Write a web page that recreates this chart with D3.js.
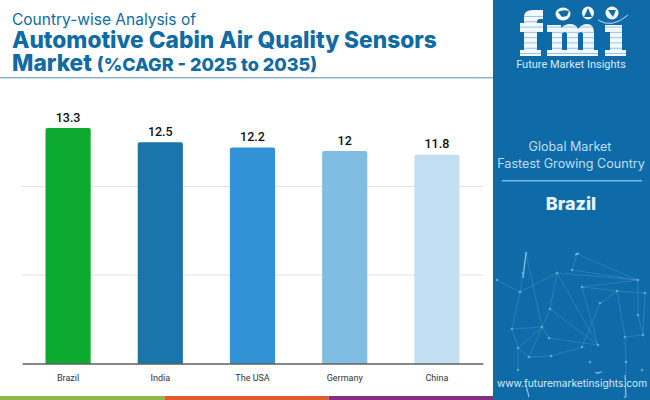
<!DOCTYPE html>
<html>
<head>
<meta charset="utf-8">
<script src="https://cdn.jsdelivr.net/npm/d3@7"></script>
<style>
  html, body { margin: 0; padding: 0; background: #fff; overflow: hidden; }
  text { font-family: Roboto, sans-serif; }
  .head { font-family: Inter, "Open Sans", sans-serif; fill: #0f6ba3; }
  .side { font-family: Inter, sans-serif; }
</style>
</head>
<body>
<svg id="chart" width="650" height="400"></svg>
<script>
// values
const countries = ["Brazil", "India", "The USA", "Germany", "China"];
const cagr = [13.3, 12.5, 12.2, 12, 11.8];
const barColors = ["#0cab2f", "#1b75ad", "#3193d6", "#80bde3", "#c2e0f2"];
const gridTicks = [5, 10];
const footerColors = ["#8cbb47", "#e05c2e", "#84307f"];

// network decoration in the side panel, [x, y]
const netPoints = [[526,253],[523,273],[520,292],[497,280],[557,273],[577,254],[572,270],[638,280],[582,287],[617,291],[645,293],[600,303],[550,309],[542,327],[512,329],[549,338],[598,345],[582,347],[518,348],[529,357],[551,356],[590,362],[638,315],[643,335],[625,337],[626,362],[642,370],[518,370],[598,373],[527,390],[625,397]];
const netLinks = [[0,2],[0,13],[2,4],[3,2],[4,7],[6,7],[5,7],[4,12],[12,13],[13,19],[4,16],[12,16],[15,16],[8,16],[8,7],[8,9],[9,10],[11,9],[11,17],[9,24],[24,25],[25,30],[2,14],[14,18],[18,27],[14,13],[13,18],[13,15],[19,20],[20,17],[24,23],[23,22],[22,7],[10,23],[18,19],[5,6]];
const netStreaks = [[526,253,523,278],[575,255,579,253],[595,373,602,372],[526,385,529,397],[625,375,626,397]];

const svg = d3.select("#chart");

// header
svg.append("text").attr("class", "head").attr("x", 12).attr("y", 25)
    .attr("font-size", 15.5).text("Country-wise Analysis of");
svg.append("text").attr("class", "head").attr("x", 12).attr("y", 48)
    .attr("font-size", 22.7).attr("font-weight", 800).text("Automotive Cabin Air Quality Sensors");
const market = svg.append("text").attr("class", "head").attr("x", 12).attr("y", 71)
    .attr("font-weight", 800);
market.append("tspan").attr("font-size", 22.7).text("Market ");
market.append("tspan").attr("font-size", 18).text("(%CAGR - 2025 to 2035)");
svg.append("rect").attr("x", 0).attr("y", 77).attr("width", 494).attr("height", 1.5).attr("fill", "#8fb3cc");

// scales
const x = d3.scaleBand().domain(countries).range([22, 483]).paddingInner(0.51).paddingOuter(0.255);
const y = d3.scaleLinear().domain([0, 10]).range([363.5, 186.5]);

// gridlines
svg.append("g").selectAll("line").data(gridTicks).join("line")
    .attr("x1", 22).attr("x2", 483)
    .attr("y1", d => y(d)).attr("y2", d => y(d))
    .attr("stroke", "#e4e4e4").attr("stroke-width", 1);

// bars, only the top corners are rounded a little
svg.append("g").selectAll("path").data(countries).join("path")
    .attr("fill", (d, i) => barColors[i])
    .attr("d", (d, i) => {
        const x0 = x(d), w = x.bandwidth(), top = y(cagr[i]), r = 2;
        return `M${x0},${y(0)}V${top + r}Q${x0},${top} ${x0 + r},${top}H${x0 + w - r}Q${x0 + w},${top} ${x0 + w},${top + r}V${y(0)}Z`;
    });

// value labels
svg.append("g").selectAll("text").data(countries).join("text")
    .attr("x", d => x(d) + x.bandwidth() / 2)
    .attr("y", (d, i) => y(cagr[i]) - 6.5)
    .attr("text-anchor", "middle").attr("font-size", 12.5).attr("font-weight", 500)
    .attr("fill", "#111")
    .text((d, i) => cagr[i]);

// x axis
const xAxis = svg.append("g").attr("transform", `translate(0,${y(0)})`)
    .call(d3.axisBottom(x).tickSize(0).tickPadding(11));
xAxis.select(".domain").attr("stroke", "#111").attr("stroke-width", 1);
xAxis.selectAll("text").attr("font-size", 9).attr("font-family", "Roboto, sans-serif").attr("fill", "#333");

// footer stripe
const footerX = d3.scaleBand().domain(d3.range(footerColors.length)).range([0, 493]);
svg.append("g").selectAll("rect").data(footerColors).join("rect")
    .attr("x", (d, i) => footerX(i)).attr("y", 396)
    .attr("width", footerX.bandwidth()).attr("height", 4)
    .attr("fill", d => d);

// side panel
const panelBlue = "#0f6ba8";
svg.append("rect").attr("x", 493).attr("y", 0).attr("width", 157).attr("height", 400).attr("fill", panelBlue);

svg.append("g").selectAll("line").data(netLinks).join("line")
    .attr("x1", d => netPoints[d[0]][0]).attr("y1", d => netPoints[d[0]][1])
    .attr("x2", d => netPoints[d[1]][0]).attr("y2", d => netPoints[d[1]][1])
    .attr("stroke", "#6fb3d6").attr("stroke-width", 0.5).attr("stroke-opacity", 0.55);
svg.append("g").selectAll("line").data(netStreaks).join("line")
    .attr("x1", d => d[0]).attr("y1", d => d[1]).attr("x2", d => d[2]).attr("y2", d => d[3])
    .attr("stroke", "#a8d6ec").attr("stroke-width", 1.2).attr("stroke-opacity", 0.8);
svg.append("g").selectAll("circle").data(netPoints).join("circle")
    .attr("cx", d => d[0]).attr("cy", d => d[1]).attr("r", 1.3)
    .attr("fill", "#6fb3cf").attr("fill-opacity", 0.8);

// fmi logo, traced by hand, stripes are clipped to the letters
const letterPaths = [
    "M520,23H524V17Q524,10 533,10H543V19H540Q537,19 537,22V23H543V32H537V50H541V56H520V50H524V32H520Z",
    "M547,25H561V28Q565,24 570,24Q576,24 578,29Q582,24 587,24Q594,24 594,33V50H598V56H581V50H583V34Q583,32 581,32Q578,32 578,35V50H581V56H564V50H567V34Q567,32 565,32Q562,32 562,35V50H565V56H547V50H552V32H547Z",
    "M605,25H622V50H626V56H605V50H610V32H605Z"
];
const logo = svg.append("g").attr("fill", "#f2f8fc");
const clip = svg.append("defs").append("clipPath").attr("id", "letters");
letterPaths.forEach(d => {
    clip.append("path").attr("d", d);
    logo.append("path").attr("d", d);
});
const stripes = logo.append("g").attr("clip-path", "url(#letters)");
d3.range(16, 56, 5.3).forEach(s => {
    stripes.append("rect").attr("x", 518).attr("y", s).attr("width", 110).attr("height", 0.9)
        .attr("fill", "#8dc0e0");
});
[[563, 14, 7.5, 6.5], [588, 13, 6, 6.5], [612, 13, 6.5, 6.5]].forEach(c => {
    logo.append("ellipse").attr("cx", c[0]).attr("cy", c[1]).attr("rx", c[2]).attr("ry", c[3]);
});
logo.append("path").attr("d", "M558,12Q563,9 569,11L567,16L562,17Z").attr("fill", panelBlue);
logo.append("path").attr("d", "M588,8L592,17H584Z").attr("fill", panelBlue);
logo.append("path").attr("d", "M608,10H616L613,17Z").attr("fill", panelBlue);
logo.append("path").attr("d", "M598,20Q612,29 628,15").attr("fill", "none").attr("stroke", "#f2f8fc").attr("stroke-width", 0.8);
svg.append("text").attr("x", 571).attr("y", 68).attr("text-anchor", "middle")
    .attr("font-size", 11).attr("fill", "#d6ecf8").text("Future Market Insights");

// side text
svg.append("text").attr("class", "side").attr("x", 570).attr("y", 151).attr("text-anchor", "middle")
    .attr("font-size", 12.6).attr("fill", "#bcdff2").text("Global Market");
svg.append("text").attr("class", "side").attr("x", 571).attr("y", 168).attr("text-anchor", "middle")
    .attr("font-size", 12.6).attr("fill", "#bcdff2").text("Fastest Growing Country");
svg.append("rect").attr("x", 502).attr("y", 180).attr("width", 140).attr("height", 1.5).attr("fill", "#7db9e4");
svg.append("text").attr("class", "side").attr("x", 571).attr("y", 210).attr("text-anchor", "middle")
    .attr("font-size", 18).attr("font-weight", 800).attr("fill", "#e6f4fb").text("Brazil");
svg.append("text").attr("class", "side").attr("x", 572).attr("y", 387).attr("text-anchor", "middle")
    .attr("font-size", 10.2).attr("fill", "#d6ecf8").text("www.futuremarketinsights.com");
</script>
</body>
</html>
